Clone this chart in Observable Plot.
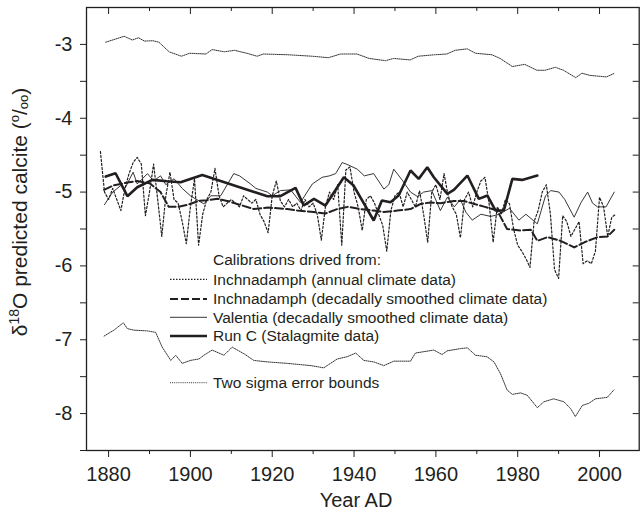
<!DOCTYPE html>
<html><head><meta charset="utf-8">
<script src="https://cdn.jsdelivr.net/npm/d3@7"></script>
<script src="https://cdn.jsdelivr.net/npm/@observablehq/plot@0.6"></script>
<style>
body{margin:0;background:#fff;}
#chart svg{display:block;}
</style></head><body><div id="chart"></div>
<script>
// ---------- data ----------
const annualStartYear = 1878;
const inchAnnualValues = [
  -4.45, -5.0, -5.1, -4.95, -5.1, -5.25, -4.95, -4.75, -4.6, -4.53,
  -4.62, -5.32, -5.0, -4.62, -5.1, -5.6, -5.05, -4.73, -5.1, -5.15,
  -5.4, -5.7, -5.2, -4.82, -5.72, -5.3, -5.1, -5.0, -4.68, -5.05,
  -5.2, -5.15, -5.1, -5.15, -5.2, -5.05, -5.1, -5.15, -5.1, -5.3,
  -5.4, -5.55, -5.05, -4.85, -5.12, -5.2, -5.1, -5.2, -5.15, -5.25,
  -5.1, -5.2, -5.15, -5.3, -5.65, -5.2, -5.0, -5.1, -4.9, -5.72,
  -4.7, -4.66, -5.0, -5.2, -5.52, -5.1, -5.05, -5.15, -5.3, -5.45,
  -5.8, -5.25, -5.05, -5.0, -5.2, -5.0, -5.1, -5.2, -4.98, -5.3,
  -5.68, -5.0, -4.9, -5.1, -4.75, -5.05, -5.2, -5.3, -5.62, -5.1,
  -5.0, -5.2, -5.0, -4.85, -4.8, -5.15, -5.68, -5.2, -5.3, -5.1,
  -5.16, -5.5, -5.72, -5.8, -5.9, -6.02, -5.4, -5.25, -5.0, -4.9,
  -5.3, -6.05, -6.17, -5.32, -5.4, -5.6, -5.5, -5.4, -5.97, -5.93,
  -5.97, -5.8, -5.07, -5.2, -5.6, -5.34, -5.3
];

const inchDecadalYears = [1878.9, 1881.2, 1884.6, 1887, 1890, 1892.7, 1894.7, 1897, 1899.5, 1902,
  1904.1, 1906.6, 1909, 1912, 1915.5, 1919, 1923.7, 1926.1, 1930.2, 1933,
  1935.9, 1938.5, 1941.6, 1944.8, 1947.3, 1950.6, 1953.8, 1956.3, 1958.7, 1961.1,
  1964.4, 1966.8, 1969.3, 1972, 1975, 1977.4, 1980.7, 1983.2, 1984.8, 1987.3,
  1990.5, 1993.8, 1996.3, 1999.5, 2002, 2003.6];
const inchDecadalValues = [-4.97, -4.91, -4.87, -4.85, -4.88, -5.0, -5.2, -5.2, -5.17, -5.12,
  -5.11, -5.09, -5.12, -5.17, -5.23, -5.21, -5.23, -5.25, -5.27, -5.29,
  -5.23, -5.2, -5.23, -5.25, -5.27, -5.25, -5.23, -5.16, -5.14, -5.15,
  -5.12, -5.12, -5.16, -5.2, -5.25, -5.5, -5.52, -5.51, -5.66, -5.61,
  -5.66, -5.75, -5.68, -5.61, -5.6, -5.51];

const valentiaYears = [1879, 1881, 1883, 1884, 1886, 1887, 1889.5, 1891, 1892.7, 1894,
  1896, 1898, 1900, 1903.3, 1905, 1907.4, 1909, 1910.6, 1912, 1914.7,
  1916, 1918.8, 1920, 1922, 1924.5, 1926.9, 1929.8, 1932.2, 1934, 1935.5,
  1937.1, 1938.5, 1940.8, 1942.5, 1944.8, 1947.3, 1948.5, 1949.7, 1951.8, 1953.8,
  1955.5, 1957, 1959, 1961.1, 1962.8, 1964.5, 1966, 1967.3, 1968.9, 1971,
  1973.4, 1975.5, 1978, 1980.3, 1982, 1984.8, 1986.8, 1988.1, 1990.1, 1991.5,
  1993.8, 1995.5, 1997.1, 1998.3, 1999.5, 2001.6, 2003.6];
const valentiaValues = [-5.17, -5.0, -4.91, -4.95, -4.73, -4.89, -4.75, -4.85, -4.78, -4.9,
  -4.82, -4.95, -5.05, -5.16, -5.05, -5.05, -4.9, -4.75, -4.78, -4.89,
  -4.95, -5.0, -5.05, -4.98, -4.97, -5.14, -4.89, -4.8, -4.78, -4.75,
  -4.6, -4.63, -4.69, -4.78, -4.75, -4.96, -4.9, -4.69, -4.84, -5.0,
  -5.06, -5.0, -4.98, -5.25, -5.07, -5.2, -5.1, -5.27, -5.38, -5.3,
  -5.33, -5.3, -5.22, -5.38, -5.3, -5.43, -5.05, -4.98, -5.0, -5.1,
  -5.34, -5.14, -5.0, -5.15, -5.2, -5.2, -5.0];

const runCYears = [1879.3, 1881.7, 1884.6, 1887, 1890.7, 1894.3, 1897.6, 1902.9, 1918.8, 1922,
  1925.7, 1927.7, 1930.2, 1933, 1937.5, 1939.9, 1944.8, 1946.8, 1948.9, 1950.9,
  1953.8, 1955.8, 1957.9, 1959.5, 1962.8, 1964.4, 1967.7, 1970.5, 1972.6, 1974.6,
  1976.6, 1978.7, 1981.1, 1984.8];
const runCValues = [-4.79, -4.745, -5.056, -4.935, -4.835, -4.853, -4.867, -4.768, -5.056, -5.056,
  -4.943, -5.182, -5.092, -5.182, -4.799, -4.912, -5.385, -5.115, -5.137, -5.047,
  -4.708, -4.821, -4.664, -4.799, -5.024, -4.97, -4.776, -5.092, -5.047, -5.25,
  -5.25, -4.821, -4.835, -4.776];

const upperYears = [1879.3, 1883.8, 1885.8, 1887.3, 1888.8, 1890.8, 1892.3, 1894.8, 1897.8, 1899.8,
  1903.8, 1905.3, 1908.3, 1910.8, 1913.8, 1916.3, 1917.8, 1923.8, 1929.8, 1933.7,
  1936.7, 1940.7, 1943.7, 1947.7, 1949.7, 1953.7, 1955.7, 1959.7, 1962.7, 1964.7,
  1967.7, 1969.7, 1973.7, 1975.7, 1978.7, 1981.7, 1984.7, 1986.7, 1989.2, 1991.2,
  1994.2, 1995.7, 1997.7, 2001.7, 2003.7];
const upperValues = [-2.97, -2.89, -2.94, -2.91, -2.955, -2.95, -2.97, -3.10, -3.16, -3.12,
  -3.13, -3.07, -3.10, -3.08, -3.12, -3.16, -3.13, -3.14, -3.16, -3.18,
  -3.13, -3.13, -3.19, -3.22, -3.19, -3.21, -3.16, -3.14, -3.13, -3.08,
  -3.06, -3.12, -3.14, -3.19, -3.30, -3.27, -3.35, -3.35, -3.31, -3.35,
  -3.45, -3.39, -3.42, -3.44, -3.39];

const lowerYears = [1878.9, 1881.3, 1883.6, 1884.6, 1886.2, 1889.5, 1891.5, 1893.1, 1895.2, 1896.4,
  1898.0, 1900.0, 1902.1, 1903.3, 1905.3, 1908.2, 1910.2, 1913.1, 1915.5, 1918.8,
  1923.7, 1929.4, 1932.6, 1935.9, 1938.3, 1940.4, 1942.4, 1944.8, 1947.3, 1949.7,
  1953.8, 1955.0, 1959.5, 1961.5, 1962.8, 1966.0, 1967.7, 1969.7, 1972.5, 1974.2,
  1975.8, 1977.4, 1978.7, 1980.7, 1982.3, 1984.8, 1986.4, 1988.8, 1991.3, 1992.9,
  1994.1, 1995.8, 1997.4, 1999.0, 2001.9, 2003.5];
const lowerValues = [-6.95, -6.87, -6.77, -6.85, -6.87, -6.88, -6.90, -7.10, -7.28, -7.21,
  -7.32, -7.28, -7.26, -7.21, -7.14, -7.21, -7.10, -7.19, -7.28, -7.30,
  -7.32, -7.35, -7.38, -7.26, -7.23, -7.18, -7.28, -7.30, -7.35, -7.29,
  -7.29, -7.18, -7.14, -7.20, -7.15, -7.12, -7.11, -7.21, -7.23, -7.30,
  -7.46, -7.68, -7.74, -7.72, -7.75, -7.92, -7.84, -7.80, -7.84, -7.93,
  -8.04, -7.89, -7.86, -7.80, -7.78, -7.68];

const majorYearTicks = [1880, 1900, 1920, 1940, 1960, 1980, 2000];
const minorYearTicks = [1890, 1910, 1930, 1950, 1970, 1990];
const majorValueTicks = [-3, -4, -5, -6, -7, -8];
const minorValueTicks = [-3.5, -4.5, -5.5, -6.5, -7.5, -8.5];

const legendTitle = "Calibrations drived from:";
const legendLabels = [
  "Inchnadamph (annual climate data)",
  "Inchnadamph (decadally smoothed climate data)",
  "Valentia (decadally smoothed climate data)",
  "Run C (Stalagmite data)"
];
const errorLabel = "Two sigma error bounds";
const xLabel = "Year AD";

// ---------- tables ----------
const pair = (xs, vs) => vs.map((v, i) => ({year: xs[i], value: v}));
const inchAnnual = inchAnnualValues.map((v, i) => ({year: annualStartYear + i, value: v}));
const inchDecadal = pair(inchDecadalYears, inchDecadalValues);
const valentia = pair(valentiaYears, valentiaValues);
const runC = pair(runCYears, runCValues);
const upper = pair(upperYears, upperValues);
const lower = pair(lowerYears, lowerValues);

// ---------- layout ----------
const W = 641, H = 515;
const mL = 86, mR = 2.3, mT = 7, mB = 65;
const innerW = W - mL - mR, innerH = H - mT - mB;
const INK = "#231f20";
const FONT = "'Liberation Sans', Arial, Helvetica, sans-serif";

const styles = {
  annual: {stroke: INK, strokeWidth: 1.2, strokeDasharray: "2,2"},
  decadal: {stroke: INK, strokeWidth: 2, strokeDasharray: "8,3"},
  valentia: {stroke: INK, strokeWidth: 0.9},
  runC: {stroke: INK, strokeWidth: 2.6},
  error: {stroke: "#333", strokeWidth: 1, strokeDasharray: "1,1.1"}
};

const svg = Plot.plot({
  width: W, height: H,
  marginLeft: mL, marginRight: mR, marginTop: mT, marginBottom: mB,
  style: {fontFamily: FONT, color: INK, background: "white", overflow: "visible"},
  x: {domain: [1874.6, 2009.7]},
  y: {domain: [-8.5, -2.5]},
  marks: [
    Plot.line(upper, {x: "year", y: "value", ...styles.error}),
    Plot.line(lower, {x: "year", y: "value", ...styles.error}),
    Plot.line(inchAnnual, {x: "year", y: "value", ...styles.annual}),
    Plot.line(valentia, {x: "year", y: "value", ...styles.valentia}),
    Plot.line(inchDecadal, {x: "year", y: "value", ...styles.decadal}),
    Plot.line(runC, {x: "year", y: "value", ...styles.runC, strokeLinejoin: "miter"}),
    Plot.axisX({ticks: majorYearTicks, anchor: "bottom", tickSize: 7, tickPadding: 9, fontSize: 20, label: null, tickFormat: d => String(d)}),
    Plot.axisX({ticks: minorYearTicks, anchor: "bottom", tickSize: 4, label: null, tickFormat: () => ""}),
    Plot.axisY({ticks: majorValueTicks, anchor: "left", tickSize: 6, tickPadding: 8, fontSize: 20, label: null, tickFormat: d => String(d)}),
    Plot.axisY({ticks: minorValueTicks, anchor: "left", tickSize: 6, label: null, tickFormat: () => ""}),
    Plot.ruleX(majorYearTicks, {stroke: INK, insetBottom: innerH - 7}),
    Plot.ruleX(minorYearTicks, {stroke: INK, insetBottom: innerH - 4}),
    Plot.ruleY(majorValueTicks.concat(minorValueTicks.slice(0, 5)), {stroke: INK, insetLeft: innerW - 6}),
    Plot.frame({stroke: INK, strokeWidth: 1.3})
  ]
});

const s = d3.select(svg);

// y axis title
const yt = s.append("text")
  .attr("transform", "translate(27,212) rotate(-90)")
  .attr("text-anchor", "middle")
  .attr("font-size", 21).attr("fill", INK).attr("font-family", FONT);
yt.append("tspan").text("\u03B4");
yt.append("tspan").attr("font-size", 14).attr("dy", -8).text("18");
yt.append("tspan").attr("dy", 8).text("O predicted calcite (");
yt.append("tspan").attr("font-size", 13).attr("dy", -8).text("o");
yt.append("tspan").attr("dy", 8).text("/");
yt.append("tspan").attr("font-size", 13).attr("dy", 1).text("oo");
yt.append("tspan").attr("dy", -1).text(")");

// x axis title
s.append("text").attr("x", 356).attr("y", 507)
  .attr("text-anchor", "middle").attr("font-size", 20)
  .attr("fill", INK).attr("font-family", FONT).text(xLabel);

// legend (inside plot)
const lg = s.append("g").attr("font-family", FONT).attr("font-size", 15.5)
  .attr("fill", INK).attr("text-anchor", "start");
const tx = 213, sx1 = 170, sx2 = 207;
lg.append("text").attr("x", tx).attr("y", 260).attr("dy", "0.35em").text(legendTitle);
const rowY = [279.3, 299, 317.3, 336];
const rowStyles = [styles.annual, styles.decadal, styles.valentia, styles.runC];
legendLabels.forEach((lab, i) => {
  const st = rowStyles[i];
  lg.append("line").attr("x1", sx1).attr("x2", sx2).attr("y1", rowY[i]).attr("y2", rowY[i])
    .attr("stroke", st.stroke).attr("stroke-width", st.strokeWidth)
    .attr("stroke-dasharray", i === 0 ? "1.5,1.5" : (st.strokeDasharray || null));
  lg.append("text").attr("x", tx).attr("y", rowY[i]).attr("dy", "0.35em").text(lab);
});
lg.append("line").attr("x1", sx1).attr("x2", sx2).attr("y1", 382.7).attr("y2", 382.7)
  .attr("stroke", styles.error.stroke).attr("stroke-width", styles.error.strokeWidth)
  .attr("stroke-dasharray", styles.error.strokeDasharray);
lg.append("text").attr("x", tx).attr("y", 382.7).attr("dy", "0.35em").text(errorLabel);

document.getElementById("chart").appendChild(svg);
</script></body></html>
